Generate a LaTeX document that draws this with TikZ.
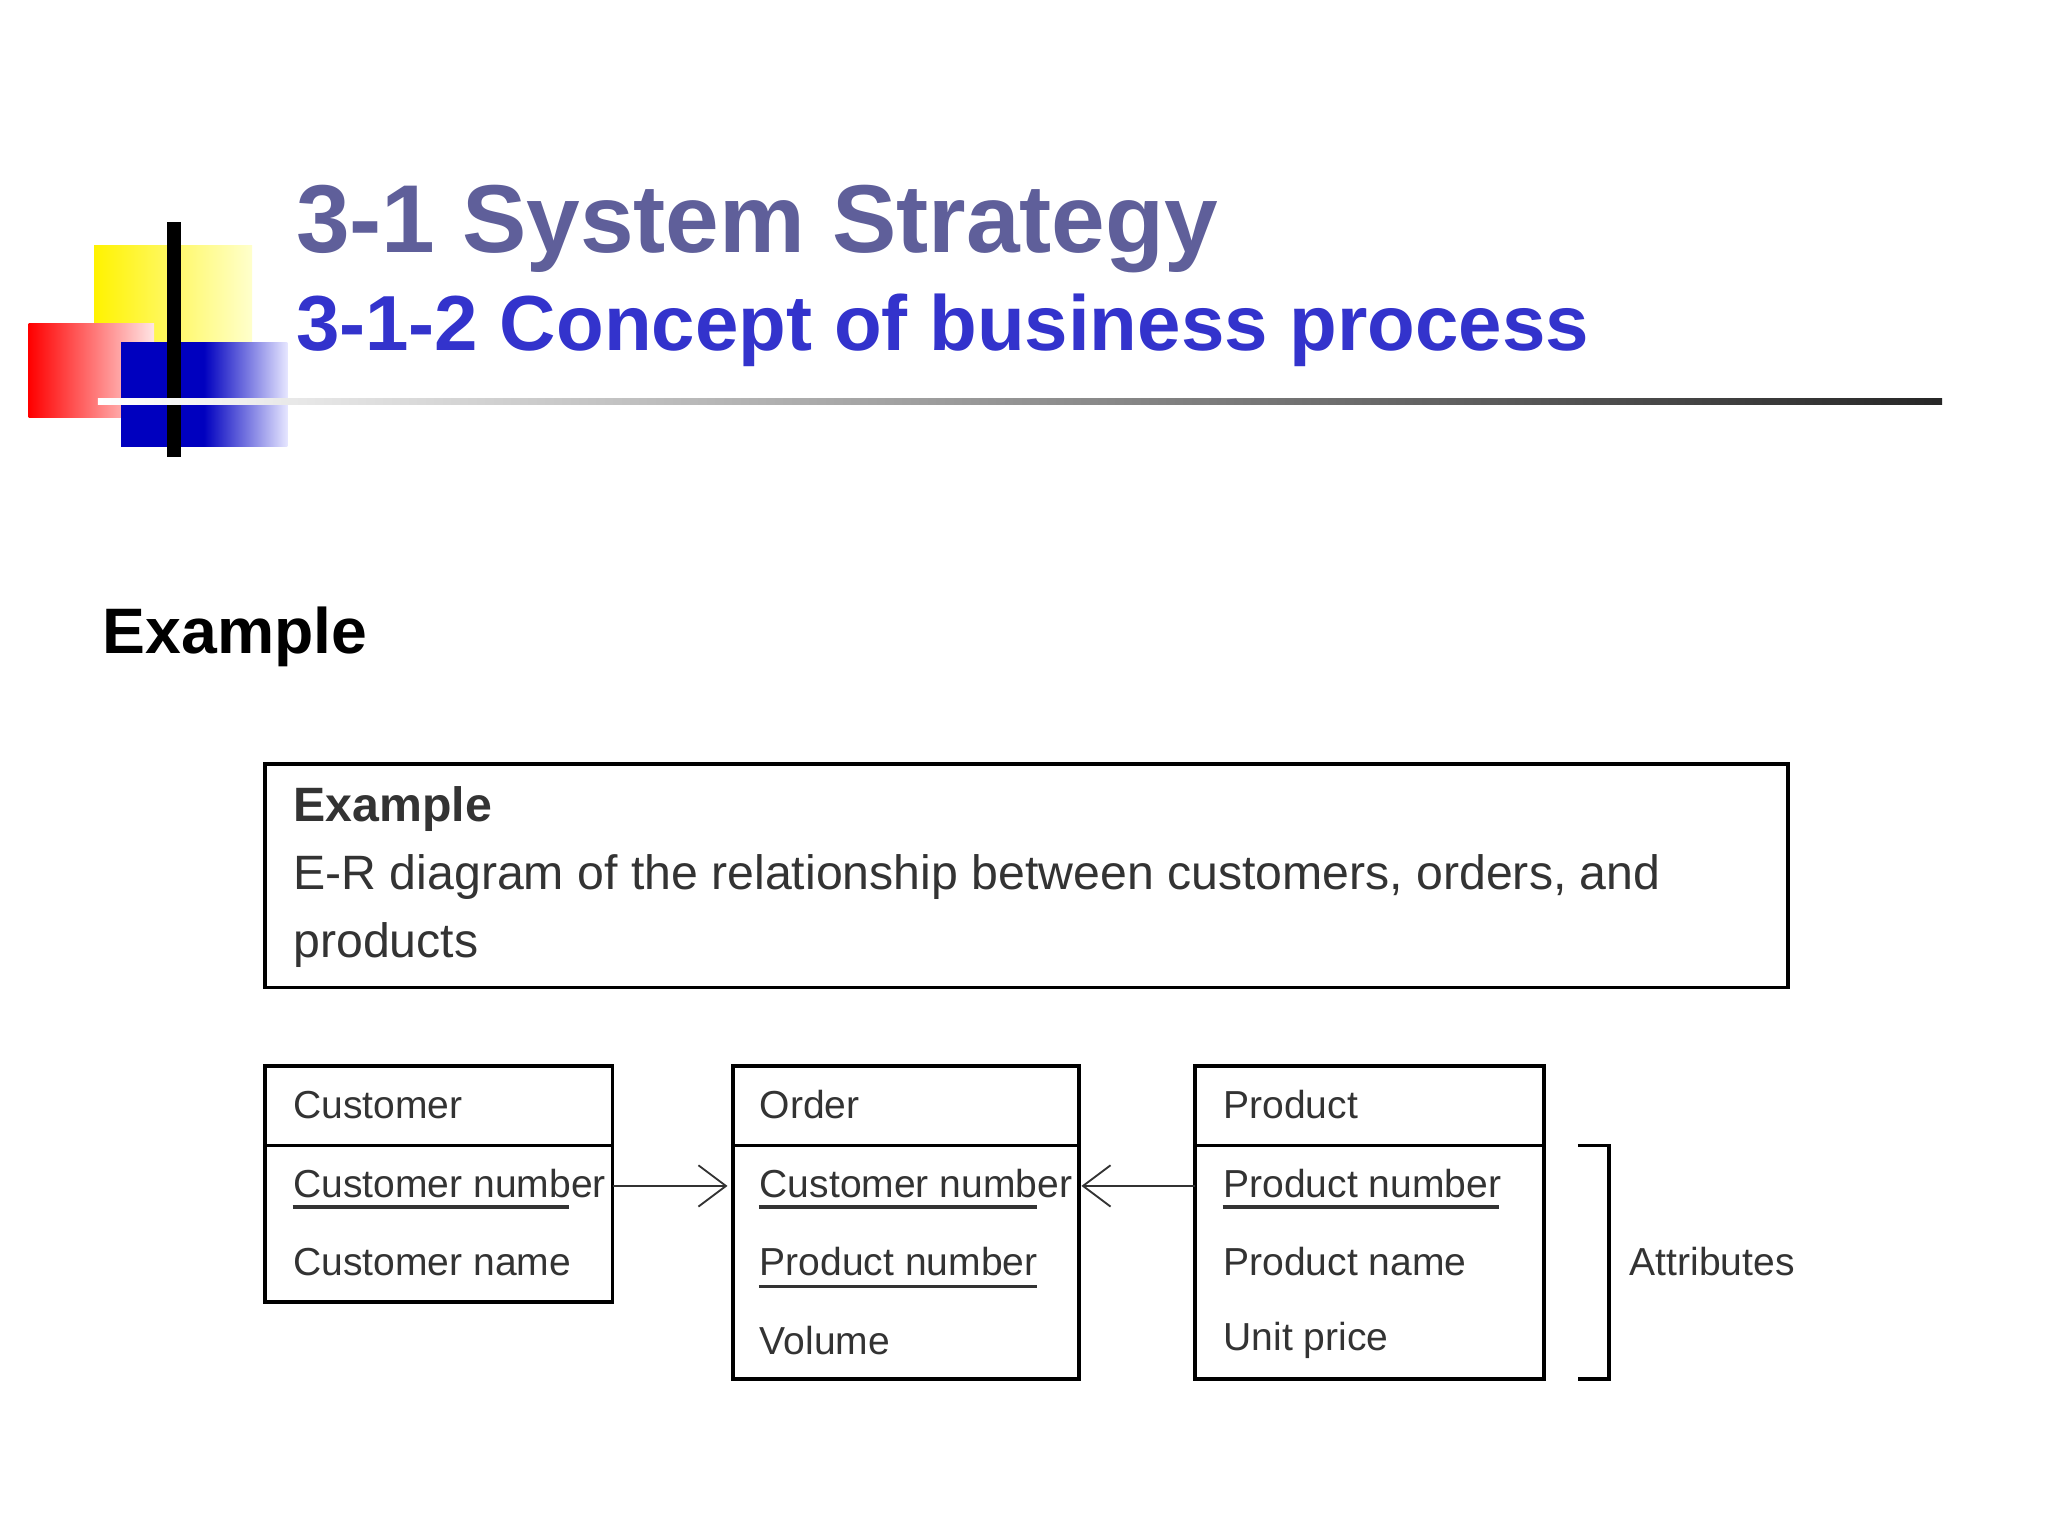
\documentclass[tikz,border=0pt]{standalone}
\usepackage{fontspec}
\setmainfont{Liberation Sans}
\usetikzlibrary{arrows.meta}
\definecolor{tslate}{HTML}{5F5F9A}
\definecolor{tblue}{HTML}{3333CC}
\definecolor{tgray}{HTML}{333333}
\begin{document}
\begin{tikzpicture}[x=0.01cm,y=-0.01cm,
  ent/.style={draw,thick},
  lab/.style={anchor=west,font=\fontsize{8.5}{10}\selectfont,text=tgray,inner sep=0},
  ul/.style={thick,tgray}]
\useasboundingbox (0,0) rectangle (1568,1176);
\fill[white] (0,0) rectangle (1568,1176);
% logo
\shade[left color=yellow!90!orange,right color=yellow!20] (72,188) rectangle (193,262);
\shade[left color=red,right color=red!10] (22,248) rectangle (118,320);
\fill[blue!75!black] (93,262) rectangle (156,342);
\shade[left color=blue!75!black,right color=blue!10] (156,262) rectangle (220,342);
\draw[line width=3pt] (133,170) -- (133,350);
\shade[left color=white,right color=black!85] (75,305) rectangle (1487,310);
% titles
\node[anchor=base west,inner sep=0,text=tslate,font=\bfseries\fontsize{21}{24}\selectfont] (t1) at (226,193) {3-1 System Strategy};
\node[anchor=base west,inner sep=0,text=tblue,font=\bfseries\fontsize{17}{20}\selectfont] (t2) at (226,268) {3-1-2 Concept of business process};
\node[anchor=base west,inner sep=0,font=\bfseries\fontsize{14}{16}\selectfont] (ex) at (78,500) {Example};
% example box
\draw[ent] (203,585) rectangle (1369,756);
\node[anchor=base west,inner sep=0,text=tgray,font=\bfseries\fontsize{10.5}{12}\selectfont] (e1) at (224,629) {Example};
\node[anchor=base west,inner sep=0,text=tgray,font=\fontsize{10.5}{12}\selectfont] (e2) at (224,681) {E-R diagram of the relationship between customers, orders, and};
\node[anchor=base west,inner sep=0,text=tgray,font=\fontsize{10.5}{12}\selectfont] (e3) at (224,733) {products};
% entities
\draw[ent] (203,816) rectangle (469,997); \draw[ent] (203,877) -- (469,877);
\draw[ent] (561,816) rectangle (826,1056); \draw[ent] (561,877) -- (826,877);
\draw[ent] (915,816) rectangle (1182,1056); \draw[ent] (915,877) -- (1182,877);
\node[lab] (c0) at (224,846) {Customer};
\node[lab] (c1) at (224,906) {Customer number};
\node[lab] (c2) at (224,966) {Customer name};
\node[lab] (o0) at (581,846) {Order};
\node[lab] (o1) at (581,906) {Customer number};
\node[lab] (o2) at (581,966) {Product number};
\node[lab] (o3) at (581,1026) {Volume};
\node[lab] (p0) at (936,846) {Product};
\node[lab] (p1) at (936,906) {Product number};
\node[lab] (p2) at (936,966) {Product name};
\node[lab] (p3) at (936,1026) {Unit price};
\draw[ul] (224,924) -- (436,924);
\draw[ul] (581,924) -- (794,924);
\draw[ul] (581,985) -- (794,985);
\draw[ul] (936,924) -- (1148,924);
\coordinate (a1) at (469,908); \coordinate (a2) at (557,908);
\coordinate (b1) at (915,908); \coordinate (b2) at (828,908);
\draw[-{Straight Barb[length=6pt,width=9pt]},tgray] (a1) -- (a2);
\draw[-{Straight Barb[length=6pt,width=9pt]},tgray] (b1) -- (b2);
\draw[thick] (1208,877) -- (1232,877) -- (1232,1056) -- (1208,1056);
\node[lab] (attr) at (1247,966) {Attributes};
\end{tikzpicture}
\end{document}
